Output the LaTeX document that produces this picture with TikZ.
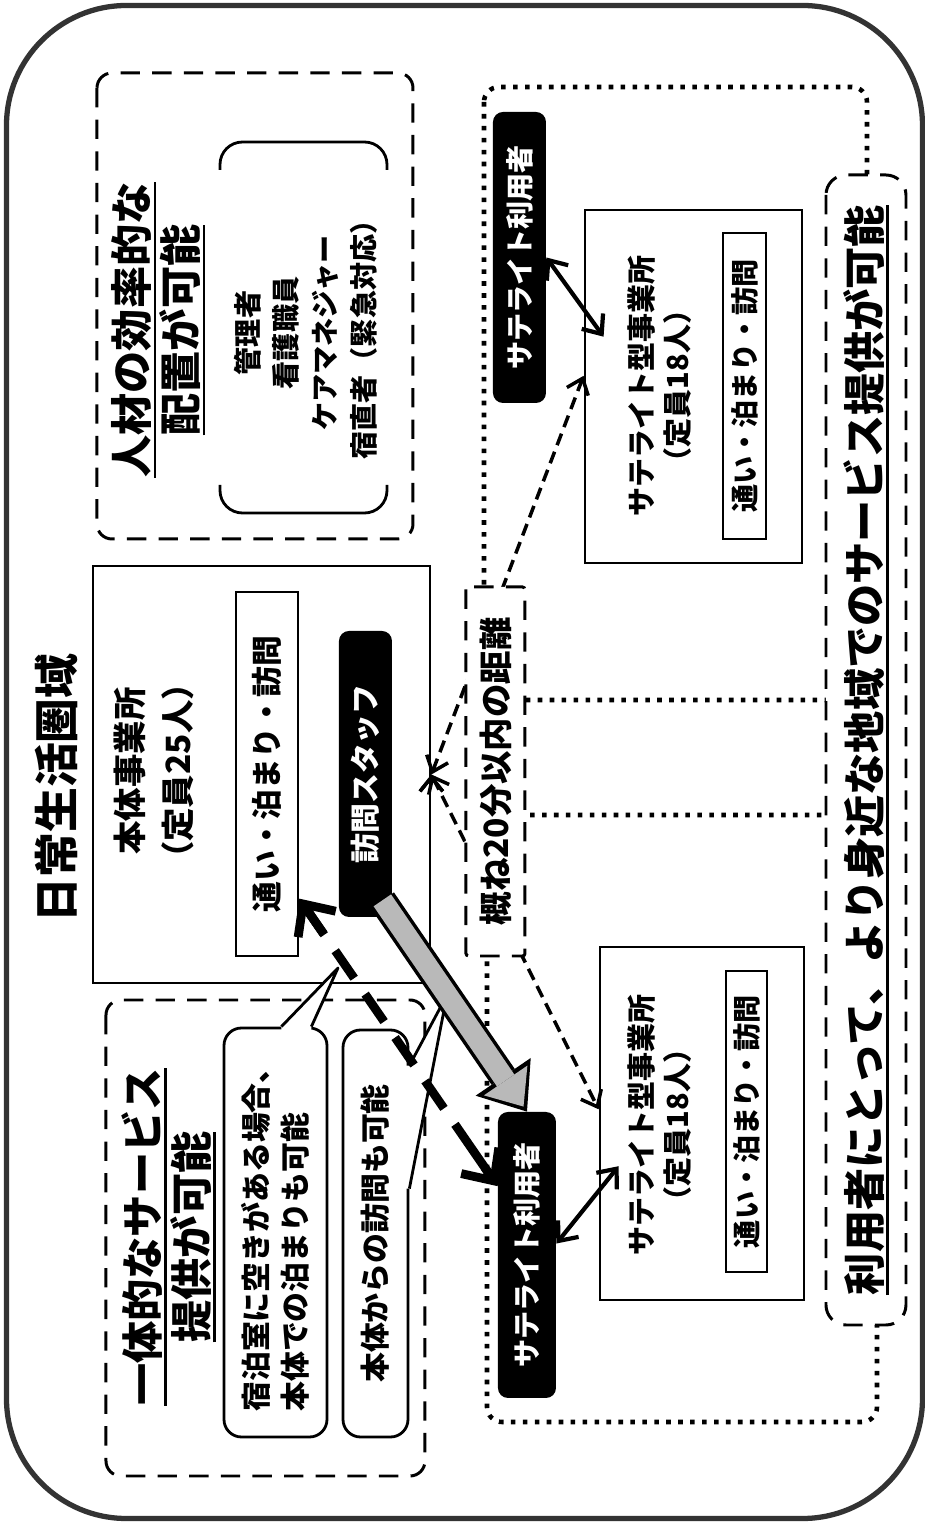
\documentclass[tikz,border=0pt]{standalone}
\usepackage{fontspec}
\setmainfont{Noto Sans CJK JP}
\usetikzlibrary{arrows.meta,calc}
\newcommand{\ulbar}[1]{\setbox0=\hbox{#1}\rlap{\rule[-0.2em]{\wd0}{1.3pt}}\box0}
\tikzset{
  box/.style={draw, line width=1.6pt, inner sep=0pt},
  inbox/.style={draw, line width=1.5pt, inner sep=0pt, font=\bfseries\fontsize{16}{19}\selectfont},
  dbox/.style={draw, fill=white, line width=1.7pt, dash pattern=on 11pt off 7pt, rounded corners=0.3cm, inner sep=0pt},
  dotbox/.style={draw, line width=2.6pt, dash pattern=on 2.6pt off 4.2pt, rounded corners=0.3cm, inner sep=0pt},
  blackbox/.style={fill=black, text=white, rounded corners=0.2cm, inner sep=0pt, font=\bfseries\fontsize{16}{19}\selectfont},
  note/.style={draw, fill=white, line width=1.6pt, rounded corners=0.35cm, inner sep=0pt, font=\bfseries\fontsize{17}{22}\selectfont},
  head/.style={align=center, font=\bfseries\fontsize{24}{28}\selectfont},
  label/.style={align=center, font=\bfseries\fontsize{16.5}{20.5}\selectfont},
  pointer/.style={line width=1.6pt, line join=round},
  thindash/.style={line width=2pt, dash pattern=on 7pt off 4pt, {Straight Barb[length=8pt,width=13pt]}-{Straight Barb[length=8pt,width=13pt]}},
  twoway/.style={line width=2.4pt, {Straight Barb[length=9pt,width=15pt]}-{Straight Barb[length=9pt,width=15pt]}},
  bigdash/.style={line width=5pt, dash pattern=on 19pt off 11pt, shorten <=6pt, shorten >=6pt},
  bigtip/.style={line width=5pt, -{Straight Barb[length=14pt,width=26pt]}},
  grayout/.style={line width=16pt, -{Triangle[length=24pt,width=38pt,line width=0pt]}},
  grayin/.style={line width=12pt, draw=gray!55, shorten >=3.5pt, -{Triangle[length=18pt,width=30pt,line width=0pt]}}
}
\begin{document}
\begin{tikzpicture}[rotate=90, transform shape]
    \useasboundingbox (0,0) rectangle (30.44,18.5);
    \node[draw=black!80, line width=3pt, rounded corners=2.4cm, minimum width=30.26cm, minimum height=18.32cm, inner sep=0pt] (region) at (15.2,9.21) {};
    \node[font=\bfseries\fontsize{25.5}{30}\selectfont] (title) at (14.68,17.38) {日常生活圏域};
    % satellite areas
    \node[dotbox, minimum width=12.26cm, minimum height=7.66cm] (area1) at (22.57,4.99) {};
    \node[dotbox, minimum width=12.14cm, minimum height=7.80cm] (area2) at (8.07,4.86) {};
    % staff
    \node[dbox, minimum width=9.32cm, minimum height=6.32cm] (zai) at (24.32,13.40) {};
    \node[head] (zaiT) at (23.84,15.33) {\ulbar{人材の効率的な}\\\ulbar{配置が可能}};
    \node[align=center, font=\bfseries\fontsize{16}{22}\selectfont] (staff) at (23.78,12.39) {管理者\\看護職員\\ケアマネジャー\\宿直者（緊急対応）};
    \draw[line width=1.6pt, rounded corners=0.45cm] (20.74,14.1) -- (20.18,14.1) -- (20.18,10.76) -- (20.74,10.76);
    \draw[line width=1.6pt, rounded corners=0.45cm] (27.04,14.1) -- (27.6,14.1) -- (27.6,10.76) -- (27.04,10.76);
    % main office
    \node[box, minimum width=8.34cm, minimum height=6.74cm] (honbu) at (14.95,13.27) {};
    \node[align=center, font=\bfseries\fontsize{19}{27}\selectfont] (honbuT) at (15.02,15.42) {本体事業所\\（定員25人）};
    \node[inbox, font=\bfseries\fontsize{17.5}{20}\selectfont, minimum width=7.28cm, minimum height=1.24cm] (kayoi0) at (14.96,13.16) {通い・泊まり・訪問};
    \node[blackbox, font=\bfseries\fontsize{17}{20}\selectfont, minimum width=5.72cm, minimum height=1.06cm] (houmon) at (14.96,11.19) {訪問スタッフ};
    % satellites
    \node[blackbox, minimum width=5.82cm, minimum height=1.06cm] (user1) at (25.29,8.11) {サテライト利用者};
    \node[box, minimum width=7.06cm, minimum height=4.34cm] (sat1) at (22.71,4.63) {};
    \node[label] (sat1T) at (22.72,5.30) {サテライト型事業所\\（定員18人）};
    \node[inbox, minimum width=6.12cm, minimum height=0.86cm] (kayoi1) at (22.72,3.61) {通い・泊まり・訪問};
    \node[blackbox, minimum width=5.72cm, minimum height=1.16cm] (user2) at (5.34,7.96) {サテライト利用者};
    \node[box, minimum width=7.06cm, minimum height=4.08cm] (sat2) at (7.97,4.46) {};
    \node[label] (sat2T) at (7.94,5.30) {サテライト型事業所\\（定員18人）};
    \node[inbox, minimum width=6.02cm, minimum height=0.82cm] (kayoi2) at (8.01,3.57) {通い・泊まり・訪問};
    % distance
    \coordinate (s1top) at ($(sat1.north west)!0.53!(sat1.north east)$);
    \coordinate (s2top) at ($(sat2.north west)!0.54!(sat2.north east)$);
    \draw[thindash] (honbu.south) edge (s1top) edge (s2top);
    \node[dbox, rounded corners=0.05cm, font=\bfseries\fontsize{19}{22}\selectfont, minimum width=7.38cm, minimum height=1.18cm] (kyori) at (15.01,8.59) {概ね20分以内の距離};
    \draw[twoway] (user1.south) -- ($(sat1.north west)!0.64!(sat1.north east)+(0,-0.4)$);
    \draw[twoway] ($(user2.south west)!0.54!(user2.south east)$) -- ($(sat2.north west)!0.38!(sat2.north east)+(0,-0.4)$);
    \node[dbox, rounded corners=0.4cm, head, minimum width=23cm, minimum height=1.6cm] (riyou) at (15.44,1.18) {\ulbar{利用者にとって、より身近な地域でのサービス提供が可能}};
    % one service
    \node[dbox, minimum width=9.52cm, minimum height=6.38cm] (ittai) at (5.68,13.19) {};
    \node[head] (ittaiT) at (5.7,15.13) {\ulbar{一体的なサービス}\\\ulbar{提供が可能}};
    \node[note, align=left, minimum width=8.18cm, minimum height=2.06cm] (stay) at (5.79,12.99) {宿泊室に空きがある場合、\\本体での泊まりも可能};
    \node[note, minimum width=8.14cm, minimum height=1.30cm] (visit) at (5.77,10.99) {本体からの訪問も可能};
    \coordinate (tip1) at (11.08,11.74);
    \coordinate (tip2) at (10.54,9.56);
    \fill[white] ($(stay.south east)+(-0.1,0.34)$) -- ($(stay.south east)+(0,0.34)$) -- (tip1) -- ($(stay.south east)+(0,0.94)$) -- ($(stay.south east)+(-0.1,0.94)$) -- cycle;
    \draw[pointer] ($(stay.south east)+(0,0.34)$) -- (tip1) -- ($(stay.south east)+(0,0.94)$);
    \fill[white] ($(visit.south east)+(-0.74,0.1)$) -- ($(visit.south east)+(-0.74,0)$) -- (tip2) -- ($(visit.south east)+(-3.2,0)$) -- ($(visit.south east)+(-3.2,0.1)$) -- cycle;
    \draw[pointer] ($(visit.south east)+(-0.74,0)$) -- (tip2) -- ($(visit.south east)+(-3.2,0)$);
    % arrows to satellite user
    \coordinate (stayA) at ($(kayoi0.south west)!0.16!(kayoi0.south east)$);
    \coordinate (stayB) at ($(user2.north west)!0.74!(user2.north east)$);
    \draw[bigdash] (stayA) -- (stayB);
    \draw[bigtip] ($(stayA)!24pt!(stayB)$) -- (stayA);
    \draw[bigtip] ($(stayB)!24pt!(stayA)$) -- (stayB);
    \draw[grayout] ($(houmon.south west)+(0.34,0.2)$) -- (user2.east);
    \draw[grayin] ($(houmon.south west)+(0.34,0.2)$) -- (user2.east);
\end{tikzpicture}
\end{document}
